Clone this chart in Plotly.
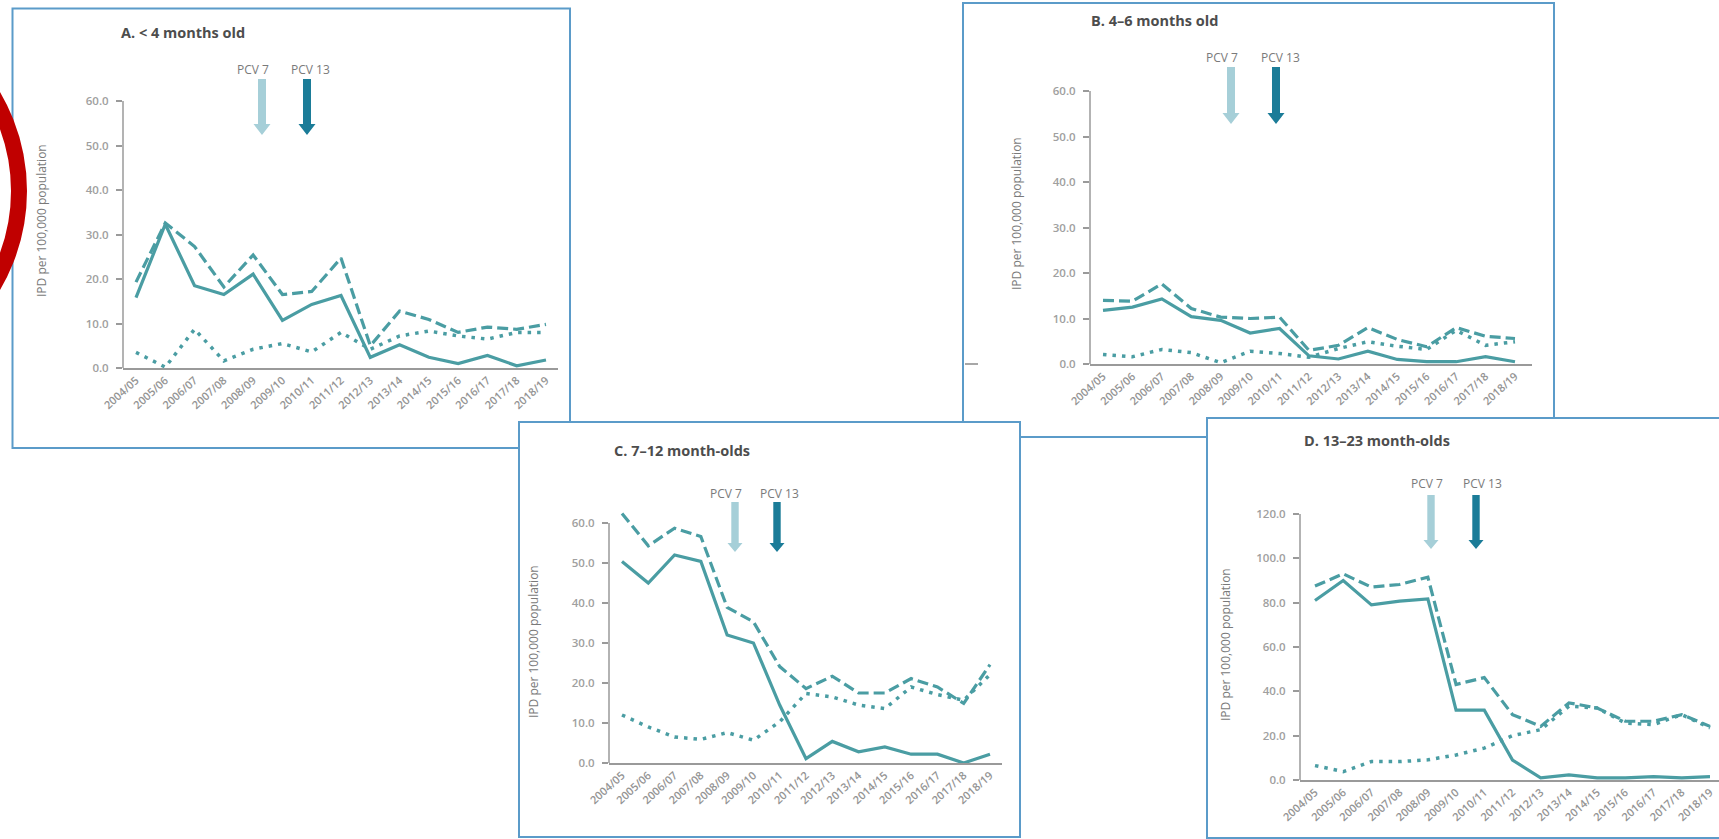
import plotly.graph_objects as go

# ---------------- data ----------------
seasons = ["2004/05", "2005/06", "2006/07", "2007/08", "2008/09", "2009/10", "2010/11",
           "2011/12", "2012/13", "2013/14", "2014/15", "2015/16", "2016/17", "2017/18", "2018/19"]

a_solid = [15.8, 32.3, 18.5, 16.5, 21.1, 10.7, 14.3, 16.3, 2.4, 5.2, 2.4, 1.0, 2.8, 0.5, 1.8]
a_dashed = [19.3, 32.6, 27.3, 18.2, 25.4, 16.5, 17.2, 24.7, 5.0, 12.8, 10.9, 8.0, 9.2, 8.7, 9.8]
a_dotted = [3.5, 0.2, 8.7, 1.6, 4.2, 5.5, 3.6, 8.0, 4.2, 7.2, 8.3, 7.2, 6.5, 8.0, 8.0]

b_solid = [11.8, 12.5, 14.3, 10.4, 9.6, 6.8, 7.8, 1.8, 1.1, 2.8, 1.0, 0.5, 0.5, 1.6, 0.5]
b_dashed = [14.0, 13.8, 17.6, 12.2, 10.3, 10.0, 10.3, 3.0, 4.1, 8.0, 5.4, 3.8, 8.0, 6.1, 5.6]
b_dotted = [2.1, 1.6, 3.2, 2.5, 0.3, 2.8, 2.3, 1.5, 3.4, 4.9, 3.9, 3.2, 7.4, 4.1, 4.9]

c_solid = [50.4, 45.0, 52.0, 50.4, 32.0, 30.0, 14.5, 1.1, 5.4, 2.8, 4.0, 2.2, 2.2, 0.0, 2.2]
c_dashed = [62.4, 54.3, 58.7, 56.6, 38.9, 35.3, 24.1, 18.6, 21.7, 17.5, 17.5, 21.1, 19.0, 14.9, 24.6]
c_dotted = [12.0, 9.0, 6.5, 5.9, 7.6, 5.7, 10.3, 17.4, 16.5, 14.5, 13.6, 19.0, 17.1, 15.7, 22.1]

d_solid = [81.0, 90.0, 79.0, 80.7, 81.7, 31.5, 31.5, 9.0, 1.0, 2.3, 1.0, 1.0, 1.5, 1.0, 1.5]
d_dashed = [87.5, 93.0, 87.0, 88.2, 91.5, 43.1, 46.2, 29.5, 24.2, 34.8, 32.5, 26.5, 26.5, 29.5, 24.2]
d_dotted = [6.5, 3.8, 8.3, 8.3, 9.1, 11.3, 14.4, 20.0, 22.7, 33.3, 32.5, 25.7, 25.0, 29.5, 23.5]

panel_titles = ["A. &lt; 4 months old", "B. 4\u20136 months old",
                "C. 7\u201312 month-olds", "D. 13\u201323 month-olds"]
y_maxes = [60, 60, 60, 120]
y_steps = [10, 10, 10, 20]
y_title = "IPD per 100,000 population"
pcv7_label = "PCV 7"
pcv13_label = "PCV 13"
series_names = ["PCV13 serotypes", "All serotypes", "Non-PCV13 serotypes"]
series_data = [(a_solid, a_dashed, a_dotted), (b_solid, b_dashed, b_dotted),
               (c_solid, c_dashed, c_dotted), (d_solid, d_dashed, d_dotted)]

# ---------------- layout geometry (pixels) ----------------
W, H = 1719, 839
def px(x): return x / W
def py(y): return 1 - y / H

geo = [
    dict(box=(12.5, 8.5, 570, 448), axis_x=123, first=136, last=546, end=558, y0=368, ytop=101,
         title=(119, 33), p7=(253, 69), p13=(310, 69), a7=(262, 79, 135), a13=(307, 79, 135),
         ytit=(41, 221), sw=4.0, hw=8.5, hl=11),
    dict(box=(963, 3, 1554, 437), axis_x=1090, first=1103, last=1515, end=1532, y0=364, ytop=91,
         title=(1089, 21), p7=(1222, 57), p13=(1280, 57), a7=(1231, 67, 124), a13=(1276, 67, 124),
         ytit=(1016, 214), sw=4.0, hw=8.5, hl=11),
    dict(box=(519, 422, 1020, 837), axis_x=609, first=622, last=990, end=1002, y0=763, ytop=523,
         title=(612, 450), p7=(726, 493), p13=(779, 493), a7=(735, 502, 552), a13=(777, 502, 552),
         ytit=(533, 642), sw=3.7, hw=7.5, hl=9),
    dict(box=(1207, 418, 1740, 838), axis_x=1300, first=1315, last=1710, end=1719, y0=780, ytop=514,
         title=(1302, 440), p7=(1427, 483), p13=(1482, 483), a7=(1431, 495, 549), a13=(1476, 495, 549),
         ytit=(1225, 645), sw=3.7, hw=7.5, hl=9),
]

TEAL = "#4a9da3"
LIGHT_ARROW = "#a6cfd8"
DARK_ARROW = "#1b7c98"
BORDER = "#5b9bc9"
AXIS = "#9a9a9a"
FONT = "Open Sans"

fig = go.Figure()
shapes = []
annotations = []
layout = {}

# boxes first (below everything)
for g in geo:
    l, t, r, b = g["box"]
    shapes.append(dict(type="rect", xref="paper", yref="paper", x0=px(l), x1=px(r), y0=py(b), y1=py(t),
                       line=dict(color=BORDER, width=2), fillcolor="white", layer="below"))

def arrow_path(x, top, tip, sw, hw, hl):
    pts = [(x - sw, top), (x + sw, top), (x + sw, tip - hl), (x + hw, tip - hl), (x, tip),
           (x - hw, tip - hl), (x - sw, tip - hl)]
    return "M " + " L ".join(f"{px(a):.6f},{py(b):.6f}" for a, b in pts) + " Z"

styles = [dict(width=3.2, dash="solid"), dict(width=3.2, dash="11px,5px"), dict(width=3.5, dash="3.5px,6px")]

for i, (g, data) in enumerate(zip(geo, series_data), start=1):
    xa = "xaxis" if i == 1 else f"xaxis{i}"
    ya = "yaxis" if i == 1 else f"yaxis{i}"
    xr = "x" if i == 1 else f"x{i}"
    yr = "y" if i == 1 else f"y{i}"
    n = len(seasons) - 1
    step = (g["last"] - g["first"]) / n
    xrange = [-(g["first"] - g["axis_x"]) / step, n + (g["end"] - g["last"]) / step]
    ymax = y_maxes[i - 1]
    extra = 30
    ytop_ext = g["ytop"] - extra
    yrange_top = ymax * (g["y0"] - ytop_ext) / (g["y0"] - g["ytop"])

    for name, vals, st in zip(series_names, data, styles):
        fig.add_trace(go.Scatter(x=seasons, y=vals, xaxis=xr, yaxis=yr, mode="lines", name=name,
                                 line=dict(color=TEAL, width=st["width"], dash=st["dash"]),
                                 showlegend=False, hoverinfo="x+y+name"))

    layout[xa] = dict(domain=[px(g["axis_x"]), min(1.0, px(g["end"]))], anchor=yr, type="category",
                      categoryorder="array", categoryarray=seasons, range=xrange, automargin=False,
                      showline=True, linecolor=AXIS, linewidth=1.5, ticks="", showgrid=False,
                      zeroline=False, tickangle=-42,
                      tickfont=dict(family=FONT, size=11, color="#949494", weight=600))
    tv = list(range(0, ymax + 1, y_steps[i - 1]))
    layout[ya] = dict(domain=[py(g["y0"]), py(ytop_ext)], anchor=xr, range=[0, yrange_top],
                      automargin=False,
                      showline=False, showgrid=False, zeroline=False, ticks="outside", ticklen=6,
                      tickwidth=1.5, tickcolor=AXIS, tickvals=tv, ticktext=[f"{v:.1f}" for v in tv],
                      ticklabelstandoff=5,
                      tickfont=dict(family=FONT, size=11.5, color="#a0a0a0", weight=600))
    # y axis line up to top tick
    shapes.append(dict(type="line", xref=f"{xr} domain", yref=yr, x0=0, x1=0, y0=0, y1=ymax,
                       line=dict(color=AXIS, width=1.5), layer="above"))

    # texts
    annotations.append(dict(text=f"<b>{panel_titles[i-1]}</b>", xref="paper", yref="paper",
                            x=px(g["title"][0]), y=py(g["title"][1]), xanchor="left", yanchor="middle",
                            showarrow=False, font=dict(family=FONT, size=14.5, color="#4d4d4d")))
    for lab, pos in ((pcv7_label, g["p7"]), (pcv13_label, g["p13"])):
        annotations.append(dict(text=lab, xref="paper", yref="paper", x=px(pos[0]), y=py(pos[1]),
                                xanchor="center", yanchor="middle", showarrow=False,
                                font=dict(family=FONT, size=12, color="#7a7a7a")))
    annotations.append(dict(text=y_title, xref="paper", yref="paper", x=px(g["ytit"][0]),
                            y=py(g["ytit"][1]), xanchor="center", yanchor="middle", textangle=-90,
                            showarrow=False, font=dict(family=FONT, size=12, color="#7a7a7a")))
    # arrows
    for (ax, atop, atip), col in ((g["a7"], LIGHT_ARROW), (g["a13"], DARK_ARROW)):
        shapes.append(dict(type="path", xref="paper", yref="paper",
                           path=arrow_path(ax, atop, atip, g["sw"], g["hw"], g["hl"]),
                           fillcolor=col, line=dict(width=0), layer="above"))

# stray tick near panel B's left border
shapes.append(dict(type="line", xref="paper", yref="paper", x0=px(965), x1=px(978), y0=py(364), y1=py(364),
                   line=dict(color="#8a8a8a", width=1.5), layer="above"))

# red highlight arc at the left edge
shapes.append(dict(type="circle", xref="paper", yref="paper", x0=px(-355), x1=px(19), y0=py(378), y1=py(4),
                   line=dict(color="#c00000", width=16), fillcolor="rgba(0,0,0,0)", layer="above"))

fig.update_layout(width=W, height=H, margin=dict(l=0, r=0, t=0, b=0, pad=0, autoexpand=False),
                  autosize=False,
                  paper_bgcolor="white", plot_bgcolor="rgba(0,0,0,0)", showlegend=False,
                  shapes=shapes, annotations=annotations, **layout)

fig.write_html("out.html", config={"displayModeBar": False},
               post_script="document.body.style.margin='0';document.body.style.overflow='hidden';")
